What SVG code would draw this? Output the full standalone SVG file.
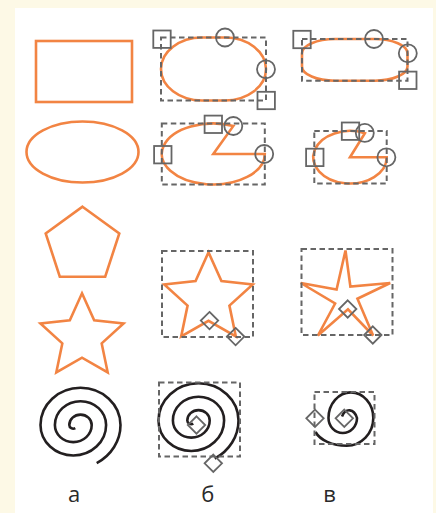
<svg xmlns="http://www.w3.org/2000/svg" xmlns:xlink="http://www.w3.org/1999/xlink" width="436" height="513" viewBox="0 0 436 513">
<style>
.sh{fill:none;stroke:#f28443;stroke-width:2.6;stroke-linejoin:miter}
.sp{fill:none;stroke:#231f20;stroke-width:2.6;stroke-linecap:butt}
.box{fill:none;stroke:#666;stroke-width:2;stroke-dasharray:5.5 3.5}
.h{fill:none;stroke:#666;stroke-width:1.8}
.lbl{font-family:"Open Sans","Noto Sans",sans-serif;font-size:22px;fill:#2a2a2a;text-anchor:middle}
</style>
<defs>
<rect id="sq" x="-8.7" y="-8.7" width="17.4" height="17.4"/>
<circle id="ci" r="9"/>
<path id="dia" d="M0,-8.7L8.7,0L0,8.7L-8.7,0Z"/>
<path id="spiral" d="M75.3,428.2 A4,3.72 0 0 1 69.3,425 A11.2,10.42 0 0 1 91.7,425 A18.4,17.11 0 0 1 54.9,425 A25.6,23.81 0 0 1 106.1,425 A32.8,30.5 0 0 1 40.5,425 A40,37.2 0 0 1 120.5,425 A47.2,43.9 0 0 1 96.7,463.1"/>
</defs>
<rect width="436" height="513" fill="#fdf9e6"/>
<rect x="15" y="8" width="418" height="505" fill="#ffffff"/>

<g id="a-rect"><rect class="sh" x="36" y="41" width="96" height="61"/></g>
<g id="a-ellipse"><ellipse class="sh" cx="82.5" cy="152" rx="56" ry="30.5"/></g>
<g id="a-pentagon"><polygon class="sh" points="82.5,206.7 119.3,233.4 105.2,276.7 59.8,276.7 45.7,233.4"/></g>
<g id="a-star"><polygon class="sh" points="82,293.3 94.17,320.25 123.56,323.5 101.69,343.4 107.69,372.35 82,357.7 56.31,372.35 62.31,343.4 40.44,323.5 69.83,320.25"/></g>
<g id="a-spiral"><use xlink:href="#spiral" class="sp"/></g>

<g id="b-rect">
<rect class="sh" x="161" y="37.5" width="105" height="63" rx="41" ry="31.5"/>
<rect class="box" x="161" y="37.5" width="105" height="63"/>
<use xlink:href="#sq" class="h" x="162" y="39.2"/>
<use xlink:href="#sq" class="h" x="266.2" y="100.5"/>
<use xlink:href="#ci" class="h" x="225" y="37.5"/>
<use xlink:href="#ci" class="h" x="266" y="69.3"/>
</g>
<g id="c-rect">
<rect class="sh" x="302" y="39" width="105.5" height="41.7" rx="33" ry="14.3"/>
<rect class="box" x="302" y="39" width="105.5" height="41.7"/>
<use xlink:href="#sq" class="h" x="302" y="39.5"/>
<use xlink:href="#sq" class="h" x="407.8" y="80.3"/>
<use xlink:href="#ci" class="h" x="374" y="39"/>
<use xlink:href="#ci" class="h" x="407.8" y="53.3"/>
</g>

<g id="b-ellipse">
<path class="sh" d="M213.3,154 L264.8,154 A51.5,30.5 0 1 1 233.4,125.9 Z"/>
<rect class="box" x="161.8" y="123.5" width="103" height="61"/>
<use xlink:href="#sq" class="h" x="162.8" y="154.7"/>
<use xlink:href="#sq" class="h" x="213.3" y="124.3"/>
<use xlink:href="#ci" class="h" x="233.3" y="126"/>
<use xlink:href="#ci" class="h" x="264.2" y="154"/>
</g>
<g id="c-ellipse">
<path class="sh" d="M350,157.2 L386.7,157.2 A36.7,26.3 0 1 1 364.9,133.2 Z"/>
<rect class="box" x="314.3" y="130.9" width="72.4" height="52.6"/>
<use xlink:href="#sq" class="h" x="314.8" y="157.4"/>
<use xlink:href="#sq" class="h" x="350.5" y="131.2"/>
<use xlink:href="#ci" class="h" x="364.8" y="132.9"/>
<use xlink:href="#ci" class="h" x="386.4" y="157.3"/>
</g>

<g id="b-star">
<polygon class="sh" points="208.5,252.3 221.43,281 252.73,284.43 229.42,305.6 235.83,336.42 208.5,320.8 181.17,336.42 187.58,305.6 164.27,284.43 195.57,281"/>
<rect class="box" x="162" y="251" width="91" height="86"/>
<use xlink:href="#dia" class="h" x="209.5" y="320.6"/>
<use xlink:href="#dia" class="h" x="235.6" y="336.6"/>
</g>
<g id="c-star">
<polygon class="sh" points="345.5,250.5 350.38,286.54 390.2,283 357.43,298.75 373.1,335.5 347.99,309.24 317.9,335.5 335.11,303.5 300.8,283 336.58,289.47"/>
<rect class="box" x="301.5" y="249" width="91" height="86"/>
<use xlink:href="#dia" class="h" x="347.7" y="309"/>
<use xlink:href="#dia" class="h" x="372.8" y="335"/>
</g>

<g id="b-spiral">
<use xlink:href="#spiral" class="sp" transform="translate(118,-4.5)"/>
<rect class="box" x="159" y="382.5" width="81" height="74"/>
<use xlink:href="#dia" class="h" x="196.5" y="425"/>
<use xlink:href="#dia" class="h" x="213.3" y="463.3"/>
</g>
<g id="c-spiral">
<path class="sp" d="M342,416.5 A8.5,13 0 0 1 357,418 A14.25,15 0 0 1 328.5,418 A22.4,25.7 0 0 1 373.3,418 A26.6,27.7 0 0 1 346.7,445.7 C332,445.7 320,440 315.5,432"/>
<rect class="box" x="314.5" y="392" width="60" height="52"/>
<use xlink:href="#dia" class="h" x="315" y="418.3"/>
<use xlink:href="#dia" class="h" x="344.3" y="418.3"/>
</g>

<g id="labels">
<text class="lbl" x="74" y="501.7">а</text>
<text class="lbl" x="207.7" y="501.7">б</text>
<text class="lbl" x="329.5" y="501.7">в</text>
</g>
</svg>
